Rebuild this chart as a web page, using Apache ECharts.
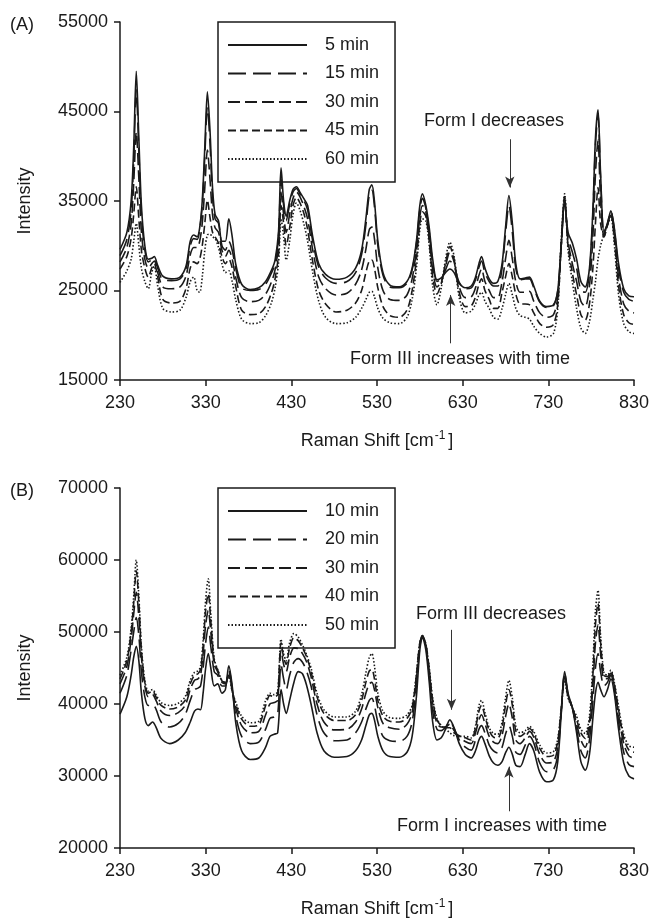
<!DOCTYPE html>
<html>
<head>
<meta charset="utf-8">
<script src="https://cdn.jsdelivr.net/npm/echarts@6/dist/echarts.min.js"></script>
<style>
  html, body { margin: 0; padding: 0; background: #fff; }
  #container { width: 650px; height: 920px; }
</style>
</head>
<body>
<div id="container"></div>
<script>
// Raman shift positions
var shiftA = [230, 238, 243, 246, 249, 252, 255, 259, 263, 267, 270, 274, 280, 290, 300, 307, 312, 316, 320, 323,
    326, 329, 332, 335, 338, 341, 345, 349, 353, 357, 361, 365, 372, 382, 392, 400, 407, 411, 415, 418,
    421, 424, 428, 432, 436, 440, 445, 449, 455, 462, 470, 482, 495, 505, 512, 517, 521, 524, 527, 531,
    537, 545, 556, 565, 571, 576, 580, 583, 587, 591, 595, 600, 605, 610, 615, 620, 626, 633, 640, 645,
    649, 652, 656, 661, 666, 671, 676, 680, 684, 688, 692, 697, 703, 708, 713, 720, 728, 736, 741, 745,
    749, 753, 758, 763, 768, 773, 778, 782, 785, 788, 791, 795, 799, 803, 807, 812, 818, 824, 830];

var a5 = [29600, 31500, 35000, 41000, 49500, 42000, 34500, 30000, 28500, 28600,
    28800, 27800, 26600, 26300, 26500, 27700, 30500, 31200, 31000, 32000,
    35000, 41000, 47200, 43000, 36500, 33500, 32800, 30500, 30500, 33000,
    31000, 28000, 25700, 25100, 25300, 26000, 27300, 28400, 31500, 38700,
    35000, 33300, 35000, 36300, 36600, 36000, 35200, 34500, 31000, 28000,
    26800, 26250, 26500, 27500, 29500, 33000, 36300, 36800, 35000, 30500,
    27000, 25600, 25400, 26000, 27500, 30500, 34500, 35800, 34500, 32000,
    28500, 26200, 26400, 27000, 27400, 27000, 25800, 25300, 25500, 26500,
    28000, 28800, 27500, 26300, 25800, 26000, 28000, 32000, 35600, 32500,
    28000, 26300, 26400, 26500, 25500, 23800, 23200, 23400, 25000, 30000,
    34800, 31500, 30300, 28500, 26000, 25400, 27500, 34000, 42000, 45200,
    38000, 31500, 32500, 33900, 32000, 28000, 25200, 24400, 24300];
var a15 = [28900, 30700, 34000, 39500, 47400, 40500, 33500, 29500, 28200, 28400,
    28600, 27500, 26200, 26100, 26300, 27400, 30000, 30800, 30700, 31800,
    34500, 40000, 45500, 41500, 35500, 33000, 32500, 30000, 29500, 30500,
    29500, 27500, 25300, 25000, 25100, 25700, 27000, 28000, 31000, 37500,
    34500, 32800, 34600, 36000, 36400, 35800, 35000, 34000, 30500, 27600,
    26400, 25800, 26000, 27000, 29000, 32300, 35700, 36200, 34400, 30000,
    26700, 25400, 25300, 25800, 27300, 30200, 34000, 35300, 34200, 31500,
    28000, 26000, 26300, 27300, 28300, 27700, 25900, 25200, 25300, 26200,
    27600, 28300, 27000, 26000, 25500, 25500, 27500, 31300, 34500, 31500,
    27500, 26200, 26300, 26300, 25300, 23700, 23100, 23300, 25000, 30000,
    35000, 31000, 29300, 27500, 25000, 24800, 27000, 33500, 41300, 44600,
    37500, 31300, 32500, 33800, 31800, 27500, 24800, 24000, 23800];
var a30 = [28200, 29800, 32500, 37000, 42700, 37500, 31500, 28500, 27500, 28000,
    28300, 27000, 25400, 25200, 25400, 26600, 29000, 29800, 29800, 30500,
    32500, 36500, 40700, 37500, 33500, 32000, 31500, 29500, 28800, 29500,
    28500, 26500, 24200, 23750, 23900, 24600, 26000, 27300, 30000, 36000,
    33500, 31500, 33500, 35300, 36000, 35500, 34300, 33000, 29500, 26500,
    25200, 24500, 24700, 25700, 27300, 29600, 31800, 32100, 30800, 27500,
    25000, 24000, 23900, 24500, 26300, 29500, 33200, 34500, 33800, 31000,
    27300, 25400, 26000, 27700, 29300, 28200, 25400, 24200, 24300, 25300,
    26700, 27400, 26000, 25000, 24200, 24200, 26000, 28500, 30600, 28500,
    26000, 24800, 24800, 24900, 23800, 22500, 22000, 22300, 24300, 30000,
    35300, 30500, 28000, 26000, 23800, 23200, 25500, 31000, 38000, 41800,
    35000, 31000, 32300, 33600, 31300, 26500, 23500, 22700, 22500];
var a45 = [27400, 28800, 30800, 33500, 36600, 33000, 29500, 27500, 26500, 27500,
    28000, 26500, 24000, 23600, 23800, 25200, 27500, 28200, 28000, 28500,
    30000, 32500, 35100, 33200, 31500, 31000, 30300, 28800, 28000, 28500,
    27500, 25500, 22800, 22300, 22400, 23200, 24800, 26300, 29000, 34500,
    32500, 30000, 32000, 34500, 35400, 34800, 33500, 31800, 28200, 25000,
    23500, 22600, 22800, 23600, 25000, 27000, 28300, 28400, 27500, 25300,
    23200, 22200, 22000, 22800, 25000, 28500, 32500, 33800, 33300, 30500,
    26500, 24600, 25800, 28000, 29900, 28500, 24800, 23200, 23300, 24300,
    25700, 26300, 25000, 24000, 23000, 23000, 24800, 26500, 28000, 26500,
    24600, 23500, 23500, 23400, 22500, 21300, 20900, 21200, 23500, 30000,
    35500, 30000, 27000, 24500, 22300, 21700, 23500, 27500, 32500, 36500,
    32500, 31000, 32300, 33400, 30800, 25500, 22300, 21400, 21200];
var a60 = [25900, 27200, 28500, 30500, 32500, 30000, 27500, 26000, 25200, 27000,
    27700, 25500, 23000, 22600, 22800, 24200, 26000, 26500, 25000, 24800,
    26500, 29500, 31200, 31300, 31000, 30800, 29800, 28000, 27000, 27200,
    26000, 24000, 21800, 21300, 21400, 22200, 23700, 25300, 28000, 33000,
    31000, 28400, 30500, 33500, 34800, 34000, 32300, 30500, 27000, 23800,
    22000, 21300, 21400, 22000, 23000, 24000, 24800, 24900, 24300, 23000,
    21900, 21400, 21300, 22000, 24000, 27500, 31800, 33000, 32800, 30000,
    25500, 23400, 25300, 28500, 30400, 28800, 24200, 22500, 22700, 23500,
    24500, 24800, 23800, 23000, 22000, 21800, 23000, 24500, 25800, 24500,
    23000, 22200, 22000, 21800, 21000, 20200, 19800, 20200, 23000, 30500,
    35800, 29500, 26000, 23000, 20800, 20200, 21500, 24000, 26000, 28500,
    30000, 31300, 32300, 33200, 30200, 24500, 21300, 20400, 20200];

// Raman shift positions
var shiftB = [230, 238, 243, 246, 249, 252, 255, 259, 263, 268, 272, 278, 288, 298, 306, 312, 317, 321, 324, 327,
    330, 333, 336, 340, 344, 349, 353, 357, 361, 365, 372, 382, 392, 400, 405, 410, 414, 418, 421, 424,
    428, 433, 438, 443, 448, 453, 460, 468, 480, 495, 505, 512, 517, 521, 524, 527, 531, 537, 545, 556,
    565, 571, 576, 580, 583, 587, 591, 595, 600, 605, 610, 615, 620, 626, 633, 640, 645, 649, 652, 656,
    661, 666, 671, 676, 680, 684, 688, 692, 697, 703, 708, 713, 720, 728, 736, 741, 745, 749, 753, 758,
    763, 768, 773, 778, 782, 785, 788, 791, 795, 799, 803, 807, 812, 818, 824, 830];

var b10 = [38600, 41000, 44000, 46500, 48000, 46000, 41500, 38000, 37000, 37500,
    36800, 35200, 34500, 35000, 36000, 37500, 39000, 39300, 39200, 41500,
    45000, 47000, 45000, 42500, 42800, 41500, 42000, 45300, 42500, 37500,
    33500, 32300, 32500, 34000, 35500, 35800, 36000, 42000, 40000, 38700,
    40500, 43000, 44500, 44200, 42500, 40000, 36000, 33500, 32600, 32700,
    33500, 35000, 37000, 38500, 38700, 37800, 35500, 33500, 32700, 32600,
    33300, 35500, 41000, 47500, 49300, 47500, 43000, 37500, 35000, 35300,
    36500, 37800, 36700, 34500, 33000, 32500, 33500, 35000, 35500, 34500,
    32800, 31800, 31500, 32000, 33200, 34000, 33000, 31500, 31300, 33000,
    34500, 33500, 30500, 29200, 29500, 32000, 38500, 44500, 41500, 39500,
    36000, 32000, 30800, 33000, 38000, 41500, 43000, 42000, 41000, 42000,
    43500, 41500, 36500, 31800, 30000, 29600];
var b20 = [41500, 44000, 47500, 50000, 52000, 49500, 44500, 41000, 39800, 40000,
    39300, 37500, 36800, 37300, 38500, 40500, 42000, 42200, 42500, 45000,
    48500, 50700, 48000, 44500, 44000, 42500, 42500, 44800, 42200, 38500,
    35500, 34500, 34700, 36500, 38000, 38200, 38500, 45500, 43500, 42000,
    44000, 45800, 46300, 45800, 44500, 42500, 38500, 36000, 34900, 35000,
    36000, 37500, 39300, 40500, 40800, 39800, 37500, 35500, 34900, 34800,
    35500, 37500, 42500, 48000, 49500, 48000, 44000, 39000, 36500, 36300,
    36800, 37600, 36600, 35000, 34000, 33600, 35000, 36500, 37000, 36000,
    34300, 33500, 33200, 34000, 35800, 37000, 35500, 33300, 33000, 34300,
    35500, 34600, 31800, 30600, 30900, 33000, 38800, 44300, 41400, 39500,
    36500, 33500, 32500, 35000, 40500, 45000, 47000, 44500, 42500, 43000,
    44000, 42000, 37500, 33300, 31600, 31300];
var b30 = [42800, 45200, 49000, 52500, 55500, 52000, 46500, 42500, 41000, 41300,
    40500, 39000, 38400, 38800, 39800, 42000, 43300, 43500, 44000, 47000,
    51000, 53000, 50000, 45500, 44500, 43000, 42800, 44400, 42000, 39500,
    37000, 36000, 36200, 38500, 40000, 40200, 40500, 47500, 45500, 44500,
    46500, 47800, 47700, 47000, 45800, 43800, 40000, 37500, 36400, 36500,
    37500, 39300, 41500, 42800, 43000, 42000, 39500, 37300, 36700, 36500,
    37200, 38800, 43500, 48300, 49500, 48200, 44500, 40000, 37300, 36800,
    36800, 37200, 36300, 35400, 34800, 34500, 36000, 37800, 38500, 37300,
    35500, 34700, 34500, 35700, 38200, 40000, 38000, 35000, 34500, 35300,
    36200, 35400, 33000, 31800, 32000, 34000, 39000, 44000, 41200, 39500,
    37200, 35000, 34000, 36500, 42500, 48500, 51000, 47000, 43500, 43500,
    44300, 42500, 38500, 34500, 32800, 32500];
var b40 = [43500, 46000, 50000, 54000, 58500, 54000, 47500, 43000, 41500, 41800,
    41000, 39800, 39300, 39600, 40500, 42800, 44000, 44200, 44800, 48000,
    53000, 55300, 51500, 46000, 44700, 43200, 43000, 44000, 41800, 40000,
    37900, 36900, 37100, 39800, 41200, 41000, 41300, 48500, 46500, 45500,
    47800, 49200, 48800, 47800, 46500, 44500, 41000, 38700, 37700, 37700,
    38500, 40500, 43000, 44600, 44800, 43500, 40500, 38300, 37600, 37500,
    38000, 39500, 44000, 48500, 49400, 48300, 44800, 40500, 37800, 37000,
    36700, 36700, 36000, 35600, 35300, 35000, 36700, 39000, 39800, 38300,
    36300, 35400, 35300, 36800, 39800, 42000, 39800, 36300, 35500, 36000,
    36600, 35900, 33800, 32700, 32900, 34800, 39200, 43700, 41000, 39500,
    37800, 36000, 35200, 37500, 44000, 51000, 54000, 48500, 44000, 43800,
    44500, 42800, 39200, 35300, 33600, 33300];
var b50 = [44000, 46500, 50500, 55000, 60000, 55000, 48000, 43300, 41800, 42000,
    41300, 40200, 39800, 40100, 41000, 43300, 44400, 44600, 45200, 48800,
    54500, 57400, 52500, 46300, 44800, 43300, 43000, 43800, 41700, 40300,
    38300, 37400, 37600, 40500, 41500, 41300, 41700, 49000, 47000, 46000,
    48500, 49800, 49300, 48200, 46800, 45000, 41500, 39200, 38200, 38200,
    39000, 41300, 44300, 46500, 47000, 45300, 41500, 39000, 38100, 38000,
    38500, 39800, 44200, 48500, 49300, 48300, 45000, 40800, 38000, 37000,
    36500, 36000, 35600, 35500, 35500, 35300, 37000, 39800, 40500, 38800,
    36700, 35900, 35800, 37500, 40800, 43300, 40800, 37000, 36000, 36300,
    36900, 36200, 34300, 33200, 33400, 35200, 39300, 43300, 40800, 39500,
    38300, 36500, 35900, 38300, 45500, 53000, 55800, 49500, 44300, 44000,
    44700, 43000, 39600, 35800, 34200, 34000];

var namesA = ['5 min', '15 min', '30 min', '45 min', '60 min'];
var namesB = ['10 min', '20 min', '30 min', '40 min', '50 min'];
var yTicksA = [15000, 55000, 10000];  // min, max, step
var yTicksB = [20000, 70000, 10000];
var xTicks = [230, 830, 100];

// solid, long dash, dash, short dash, dotted
var dashes = ['solid', [18, 7], [12, 5], [8, 4], [1.5, 2]];
var ink = '#1a1a1a';
var font = 'Liberation Sans, Arial, sans-serif';

function pairs(xs, ys) {
    return xs.map(function (x, i) { return [x, ys[i]]; });
}

var dom = document.getElementById('container');
var myChart = echarts.init(dom, null, { renderer: 'canvas' });

function xAxisFor(gridIndex) {
    return {
        type: 'value',
        gridIndex: gridIndex,
        min: xTicks[0], max: xTicks[1], interval: xTicks[2],
        name: 'Raman Shift [cm{sup|-1}{sp| }]',
        nameLocation: 'middle',
        nameGap: 50,
        nameTextStyle: {
            fontFamily: font, fontSize: 18, color: ink,
            rich: {
                sup: { fontFamily: font, fontSize: 12, color: ink, verticalAlign: 'top', padding: [0, 0, 10, 1] },
                sp: { fontFamily: font, fontSize: 10 }
            }
        },
        axisLine: { show: true, onZero: false, lineStyle: { color: ink, width: 1.5 } },
        axisTick: { show: true, length: 6, lineStyle: { color: ink, width: 1.5 } },
        axisLabel: { fontFamily: font, fontSize: 18, color: ink, margin: 14 },
        splitLine: { show: false }
    };
}

function yAxisFor(gridIndex, ticks) {
    return {
        type: 'value',
        gridIndex: gridIndex,
        min: ticks[0], max: ticks[1], interval: ticks[2],
        name: 'Intensity',
        nameLocation: 'middle',
        nameGap: 86,
        nameTextStyle: { fontFamily: font, fontSize: 18, color: ink },
        axisLine: { show: true, onZero: false, lineStyle: { color: ink, width: 1.5 } },
        axisTick: { show: true, length: 6, lineStyle: { color: ink, width: 1.5 } },
        axisLabel: {
            fontFamily: font, fontSize: 18, color: ink, margin: 12,
            formatter: function (v) { return String(v); }
        },
        splitLine: { show: false }
    };
}

function arrow(x, yFrom, yTo) {
    return {
        silent: true,
        symbol: ['none', 'arrow'],
        symbolSize: [7, 11],
        lineStyle: { color: '#333', width: 1, type: 'solid' },
        label: { show: false },
        data: [[{ coord: [x, yFrom] }, { coord: [x, yTo] }]]
    };
}

var series = [];
var setsA = [a5, a15, a30, a45, a60];
var setsB = [b10, b20, b30, b40, b50];
setsA.forEach(function (ys, k) {
    series.push({
        name: namesA[k], type: 'line', xAxisIndex: 0, yAxisIndex: 0,
        data: pairs(shiftA, ys), showSymbol: false, symbol: 'none', smooth: 0.3,
        lineStyle: { color: ink, width: 1.6, type: dashes[k] },
        itemStyle: { color: ink },
        z: 10 - k
    });
});
setsB.forEach(function (ys, k) {
    series.push({
        name: namesB[k], type: 'line', xAxisIndex: 1, yAxisIndex: 1,
        data: pairs(shiftB, ys), showSymbol: false, symbol: 'none', smooth: 0.3,
        lineStyle: { color: ink, width: 1.6, type: dashes[k] },
        itemStyle: { color: ink },
        z: 10 - k
    });
});
// arrows pointing at the bands
series[0].markLine = arrow(685, 41900, 36500);
series[4].markLine = arrow(616, 19100, 24500);
series[5].markLine = arrow(617, 50300, 39200);
series[9].markLine = arrow(684, 25100, 31300);

function legendFor(names, top) {
    return {
        data: names,
        orient: 'vertical',
        left: 218, top: top,
        itemWidth: 79, itemHeight: 14, itemGap: 10.5,
        padding: [14, 16, 14, 9],
        borderColor: ink, borderWidth: 1.5, borderRadius: 0,
        backgroundColor: '#fff',
        selectedMode: false,
        // hide the marker dot, keep the dashed line sample
        itemStyle: { opacity: 0, borderWidth: 0 },
        textStyle: { fontFamily: font, fontSize: 18, color: ink, padding: [0, 0, 0, 13] }
    };
}

function note(text, left, top) {
    return {
        type: 'text', left: left, top: top,
        style: { text: text, fontFamily: font, fontSize: 18, fill: ink }
    };
}

var option = {
    animation: false,
    backgroundColor: '#fff',
    grid: [
        { left: 120, top: 22, width: 514, height: 358, outerBoundsMode: 'none' },
        { left: 120, top: 488, width: 514, height: 360, outerBoundsMode: 'none' }
    ],
    xAxis: [xAxisFor(0), xAxisFor(1)],
    yAxis: [yAxisFor(0, yTicksA), yAxisFor(1, yTicksB)],
    legend: [legendFor(namesA, 22), legendFor(namesB, 488)],
    graphic: [
        note('(A)', 10, 16),
        note('(B)', 10, 482),
        note('Form I decreases', 424, 112),
        note('Form III increases with time', 350, 350),
        note('Form III decreases', 416, 605),
        note('Form I increases with time', 397, 817)
    ],
    series: series
};

myChart.setOption(option);
window.addEventListener('resize', myChart.resize);
</script>
</body>
</html>
